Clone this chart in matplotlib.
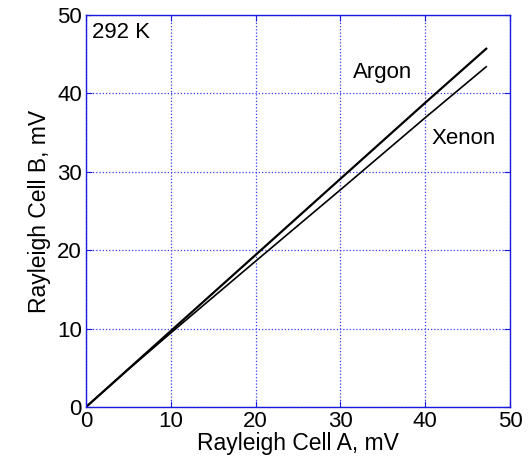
import matplotlib
matplotlib.use("Agg")
import matplotlib.pyplot as plt

plt.rcParams['font.family'] = ['Liberation Sans', 'DejaVu Sans']

# dane (mV)
argon_a = [0, 5, 10, 20, 30, 40, 47.2]
argon_b = [0, 4.85, 9.7, 19.4, 29.1, 38.8, 45.7]
xenon_a = [0, 5, 10, 20, 30, 40, 47.2]
xenon_b = [0, 4.8, 9.45, 18.6, 27.7, 36.9, 43.4]

ticks = [0, 10, 20, 30, 40, 50]
blue = '#1a1ae0'

fig = plt.figure(figsize=(5.29, 4.72), dpi=100)
ax = fig.add_axes([0.1626, 0.1377, 0.8014, 0.8305])

ax.plot(argon_a, argon_b, color='black', linewidth=1.6)
ax.plot(xenon_a, xenon_b, color='black', linewidth=1.2)

ax.set_xlim(0, 50)
ax.set_ylim(0, 50)
ax.set_xticks(ticks)
ax.set_yticks(ticks)
ax.grid(True, color='#3a3af0', linestyle=(0, (1, 1.6)), linewidth=0.9)
for s in ax.spines.values():
    s.set_color(blue)
    s.set_linewidth(1.0)
ax.tick_params(direction='in', colors=blue, labelcolor='black', labelsize=16,
               length=4, top=True, right=True, pad=3)

ax.set_xlabel('Rayleigh Cell A, mV', fontsize=16.5, labelpad=0)
ax.set_ylabel('Rayleigh Cell B, mV', fontsize=16.5, labelpad=4)

ax.text(0.7, 47.8, '292 K', fontsize=16, va='center', ha='left')
ax.text(35.0, 42.7, 'Argon', fontsize=16, va='center', ha='center')
ax.text(44.5, 34.3, 'Xenon', fontsize=16, va='center', ha='center')

plt.savefig('out.png', dpi=100)
